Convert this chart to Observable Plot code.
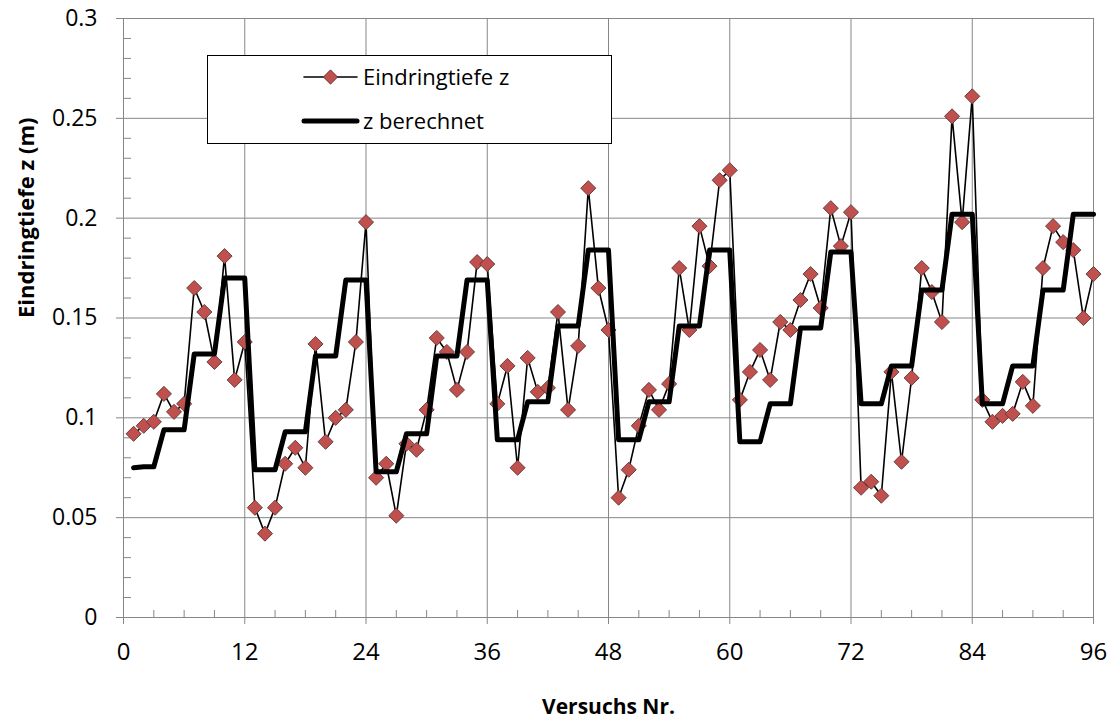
<!DOCTYPE html>
<html>
<head>
<meta charset="utf-8">
<script src="https://cdn.jsdelivr.net/npm/d3@7"></script>
<script src="https://cdn.jsdelivr.net/npm/@observablehq/plot@0.6"></script>
<style>
  html, body { margin: 0; padding: 0; background: #fff; }
  #wrap { position: relative; width: 1109px; height: 720px; }
  #legend { position: absolute; left: 207px; top: 55px; width: 403px; height: 87px;
            border: 1.3px solid #000; background: #fff; }
  #legend svg { display: block; }
</style>
</head>
<body>
<div id="wrap">
  <div id="chart"></div>
  <div id="legend"></div>
</div>
<script>
// ---- data ----
const versuch = d3.range(1, 97);
const eindringtiefe = [
  0.092, 0.096, 0.098, 0.112, 0.103, 0.107, 0.165, 0.153, 0.128, 0.181, 0.119, 0.138,
  0.055, 0.042, 0.055, 0.077, 0.085, 0.075, 0.137, 0.088, 0.100, 0.104, 0.138, 0.198,
  0.070, 0.077, 0.051, 0.087, 0.084, 0.104, 0.140, 0.133, 0.114, 0.133, 0.178, 0.177,
  0.107, 0.126, 0.075, 0.130, 0.113, 0.115, 0.153, 0.104, 0.136, 0.215, 0.165, 0.144,
  0.060, 0.074, 0.096, 0.114, 0.104, 0.117, 0.175, 0.144, 0.196, 0.176, 0.219, 0.224,
  0.109, 0.123, 0.134, 0.119, 0.148, 0.144, 0.159, 0.172, 0.155, 0.205, 0.186, 0.203,
  0.065, 0.068, 0.061, 0.123, 0.078, 0.120, 0.175, 0.163, 0.148, 0.251, 0.198, 0.261,
  0.109, 0.098, 0.101, 0.102, 0.118, 0.106, 0.175, 0.196, 0.188, 0.184, 0.150, 0.172
];
const zBerechnet = [
  0.075, 0.0755, 0.0755, 0.094, 0.094, 0.094, 0.132, 0.132, 0.132, 0.170, 0.170, 0.170,
  0.074, 0.074, 0.074, 0.093, 0.093, 0.093, 0.131, 0.131, 0.131, 0.169, 0.169, 0.169,
  0.073, 0.073, 0.073, 0.092, 0.092, 0.092, 0.131, 0.131, 0.131, 0.169, 0.169, 0.169,
  0.089, 0.089, 0.089, 0.108, 0.108, 0.108, 0.146, 0.146, 0.146, 0.184, 0.184, 0.184,
  0.089, 0.089, 0.089, 0.108, 0.108, 0.108, 0.146, 0.146, 0.146, 0.184, 0.184, 0.184,
  0.088, 0.088, 0.088, 0.107, 0.107, 0.107, 0.145, 0.145, 0.145, 0.183, 0.183, 0.183,
  0.107, 0.107, 0.107, 0.126, 0.126, 0.126, 0.164, 0.164, 0.164, 0.202, 0.202, 0.202,
  0.107, 0.107, 0.107, 0.126, 0.126, 0.126, 0.164, 0.164, 0.164, 0.202, 0.202, 0.202
];
const xMajorTicks = [0, 12, 24, 36, 48, 60, 72, 84, 96];
const xMinorTicks = d3.range(0, 97, 3).filter(v => v % 12 !== 0);
const yMajorTicks = [0, 0.05, 0.1, 0.15, 0.2, 0.25, 0.3];
const yMinorTicks = d3.range(1, 30).filter(v => v % 5 !== 0).map(v => v / 100);
const seriesNames = ["Eindringtiefe z", "z berechnet"];
const axisTitles = { x: "Versuchs Nr.", y: "Eindringtiefe z (m)" };

// ---- build ----
const measured = versuch.map((v, i) => ({ x: v, z: eindringtiefe[i] }));
const computed = versuch.map((v, i) => ({ x: v, z: zBerechnet[i] }));

const W = 1109, H = 720;
const mL = 123, mR = 16, mT = 18, mB = 103;
const plotW = W - mL - mR, plotH = H - mT - mB;
const grid = "#878787";
const red = "#C0504D", redStroke = "#5e3634";

const chart = Plot.plot({
  width: W, height: H,
  marginLeft: mL, marginRight: mR, marginTop: mT, marginBottom: mB,
  x: { domain: [0, 96] },
  y: { domain: [0, 0.3] },
  style: { fontFamily: "'Open Sans', sans-serif", background: "#fff", color: "#000", overflow: "visible" },
  marks: [
    Plot.ruleY(yMajorTicks, { stroke: grid, strokeWidth: 1 }),
    Plot.ruleX(xMajorTicks, { stroke: grid, strokeWidth: 1 }),
    Plot.tickY(yMinorTicks, { y: d => d, stroke: grid, insetRight: plotW - 8 }),
    Plot.tickX(xMinorTicks, { x: d => d, stroke: grid, insetTop: plotH - 7 }),
    Plot.axisY({ ticks: yMajorTicks, tickSize: 7, tickPadding: 19, stroke: grid,
      tickFormat: d => String(+d.toFixed(2)), fontSize: 23, label: null }),
    Plot.axisX({ ticks: xMajorTicks, tickSize: 7, tickPadding: 18, stroke: grid,
      tickFormat: d => String(d), fontSize: 24, label: null,
      fontFamily: "'Liberation Sans Narrow', 'Open Sans', sans-serif" }),
    Plot.text([axisTitles.x], { frameAnchor: "bottom", dy: 96, text: d => d,
      fontSize: 21, fontWeight: "bold" }),
    Plot.text([axisTitles.y], { frameAnchor: "left", dx: -97, rotate: -90, text: d => d,
      fontSize: 22, fontWeight: "bold" }),
    Plot.line(measured, { x: "x", y: "z", stroke: "#000", strokeWidth: 1.6 }),
    Plot.dot(measured, { x: "x", y: "z", symbol: "diamond2", r: 6.8,
      fill: red, stroke: redStroke, strokeWidth: 0.9 }),
    Plot.line(computed, { x: "x", y: "z", stroke: "#000", strokeWidth: 5,
      strokeLinejoin: "round", strokeLinecap: "round" })
  ]
});
document.getElementById("chart").appendChild(chart);

// ---- legend ----
const leg = d3.select("#legend").append("svg").attr("width", 403).attr("height", 87)
  .style("font-family", "'Open Sans', sans-serif");
const rows = [{ y: 21, name: seriesNames[0], marker: true, sw: 1.6 },
              { y: 65, name: seriesNames[1], marker: false, sw: 5 }];
rows.forEach(r => {
  const g = leg.append("g");
  g.append("line").attr("x1", 96).attr("x2", 149).attr("y1", r.y).attr("y2", r.y)
    .attr("stroke", "#000").attr("stroke-width", r.sw).attr("stroke-linecap", "round");
  if (r.marker) {
    g.append("path").attr("d", d3.symbol(d3.symbolDiamond2, 130)())
      .attr("transform", `translate(122.5,${r.y})`)
      .attr("fill", red).attr("stroke", redStroke).attr("stroke-width", 0.9);
  }
  g.append("text").attr("x", 155).attr("y", r.y).attr("dy", "0.35em")
    .attr("font-size", 22).text(r.name);
});
</script>
</body>
</html>
